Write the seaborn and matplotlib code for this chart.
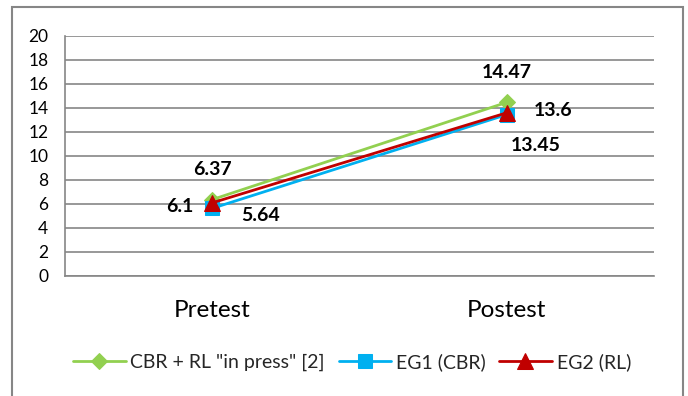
import matplotlib
matplotlib.use("Agg")
import matplotlib.pyplot as plt
import seaborn as sns
import pandas as pd
from matplotlib.patches import Rectangle

categories = ["Pretest", "Postest"]
series_names = ['CBR + RL "in press" [2]', "EG1 (CBR)", "EG2 (RL)"]
cbr_rl = [6.37, 14.47]
eg1 = [5.64, 13.45]
eg2 = [6.1, 13.6]
y_ticks = [0, 2, 4, 6, 8, 10, 12, 14, 16, 18, 20]

colors = ["#92D050", "#00B0F0", "#C00000"]
markers = ["D", "s", "^"]
msizes = [8, 10, 12]

sns.set_theme(style="white")
plt.rcParams['font.family'] = ['Lato', 'DejaVu Sans']

rows = []
for name, vals in zip(series_names, [cbr_rl, eg1, eg2]):
    for i, (c, v) in enumerate(zip(categories, vals)):
        rows.append({"x": i, "cat": c, "value": v, "series": name})
df = pd.DataFrame(rows)

fig = plt.figure(figsize=(6.88, 3.96), dpi=100)
ax = fig.add_axes([65/688, 1-276/396, (654-65)/688, (276-36)/396])

for name, col, mk, ms in zip(series_names, colors, markers, msizes):
    sub = df[df.series == name]
    sns.lineplot(data=sub, x="x", y="value", ax=ax, color=col, marker=mk,
                 markersize=ms, markeredgecolor=col, linewidth=2, label=name,
                 legend=False, zorder=3)

ax.set_xlim(-0.5, 1.5)
ax.set_ylim(0, 20)
ax.set_yticks(y_ticks)
ax.set_yticklabels([str(t) for t in y_ticks], fontsize=12.5, color="#000000")
ax.set_xticks([0, 1])
ax.set_xticklabels(categories, fontsize=17.5, color="#000000")
ax.set_xticks([-0.5, 0.5, 1.5], minor=True)
ax.tick_params(axis="x", which="major", length=0, pad=17)
ax.tick_params(axis="x", which="minor", length=6, width=1.2, color="#868686", direction="out")
ax.tick_params(axis="y", which="major", length=4, width=1.2, color="#868686", direction="out", pad=8)
ax.set_xlabel("")
ax.set_ylabel("")
ax.grid(axis="y", color="#868686", linewidth=1.2)
ax.set_axisbelow(True)
for s in ["top", "right"]:
    ax.spines[s].set_visible(False)
for s in ["left", "bottom"]:
    ax.spines[s].set_color("#868686")
    ax.spines[s].set_linewidth(1.2)

# data labels (offsets in points)
label_specs = [
    (cbr_rl, [(0, 21.5), (0, 21.5)]),
    (eg1, [(35, -5.5), (20.5, -22.6)]),
    (eg2, [(-23, -3), (33, 1.3)]),
]
for vals, offs in label_specs:
    for i, v in enumerate(vals):
        ax.annotate(f"{v:g}", (i, v), xytext=offs[i], textcoords="offset points",
                    ha="center", va="center", fontsize=14, fontweight="bold", color="#000000")

handles, labels = ax.get_legend_handles_labels()
leg = fig.legend(handles, labels, loc="center", bbox_to_anchor=(352/688, 1-362/396),
                 ncol=3, frameon=False, fontsize=14, handlelength=2.7, handletextpad=0.25,
                 columnspacing=0.7, borderpad=0, borderaxespad=0)

fig.patches.append(Rectangle((12/688, -0.02), (683-12)/688, 1.02-7/396,
                             transform=fig.transFigure, fill=False,
                             edgecolor="#868686", linewidth=1.5))

fig.savefig("out.png", dpi=100)
